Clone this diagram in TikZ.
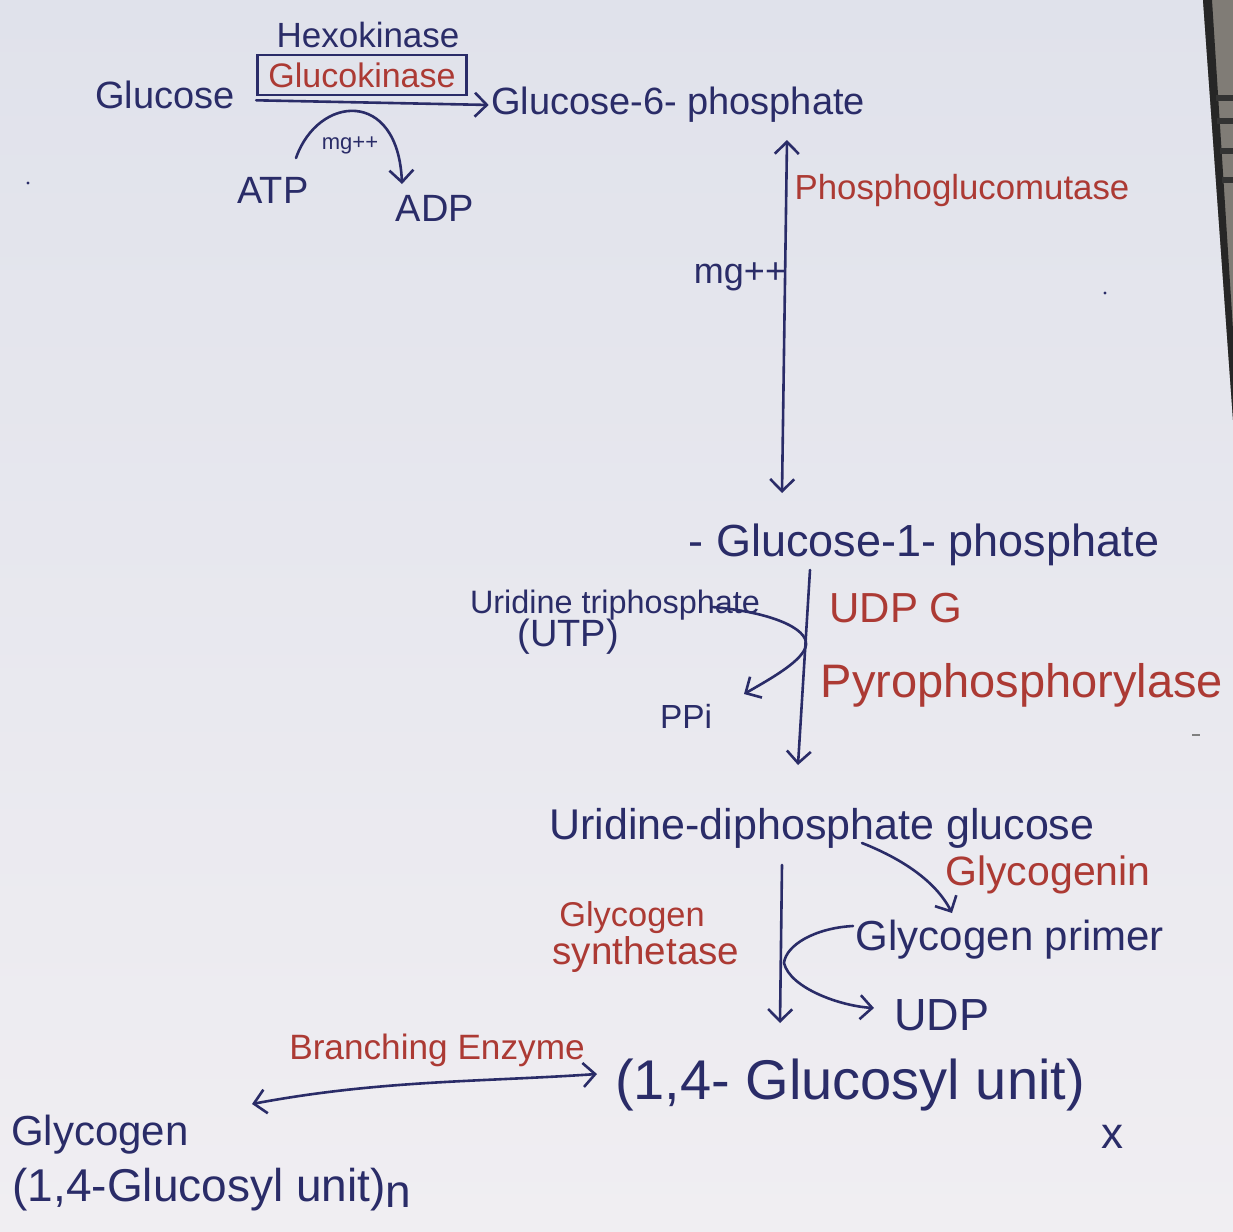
\documentclass[tikz,border=0pt]{standalone}
\usepackage{fontspec}
\setmainfont{Liberation Sans}
\usetikzlibrary{arrows.meta}
\definecolor{inkb}{RGB}{42,44,104}
\definecolor{inkr}{RGB}{172,58,52}
\definecolor{paperT}{RGB}{224,226,235}
\definecolor{paperB}{RGB}{240,238,242}
\definecolor{edgegray}{RGB}{128,124,118}
\newcommand\fsz[1]{\fontsize{#1}{#1}\selectfont}
\begin{document}
\begin{tikzpicture}[x=0.5pt,y=-0.5pt,
  lbl/.style={inner sep=0pt, text=inkb},
  enz/.style={inner sep=0pt, text=inkr},
  ink/.style={draw=inkb, line width=1.3pt, line cap=round, line join=round},
  arr/.style={ink, -{Straight Barb[length=6pt,width=12pt]}},
  darr/.style={ink, {Straight Barb[length=6pt,width=12pt]}-{Straight Barb[length=6pt,width=12pt]}}]
\useasboundingbox (0,0) rectangle (1233,1232);
% paper
\shade[top color=paperT, bottom color=paperB] (0,0) rectangle (1233,1232);
% photo edge on the right
\fill[edgegray] (1203,0) -- (1233,0) -- (1233,420) -- cycle;
\fill[black!85] (1203,0) -- (1212,0) -- (1233,330) -- (1233,420) -- cycle;
\foreach \yy in {95,118,148,177} {\fill[black!80] (1209+0.071*\yy,\yy) rectangle (1233,\yy+6);}
% stray marks
\fill[inkb] (28,183) circle (1.6);
\fill[inkb] (1105,293) circle (1.6);
\draw[gray, line width=0.8pt] (1192,735) -- (1200,735);

% --- top: hexokinase step
\node[lbl, font=\fsz{19}] (glc) at (165,95) {Glucose};
\node[lbl, font=\fsz{17.5}] (hexo) at (368,35) {Hexokinase};
\node[enz, font=\fsz{17}, draw=inkb, line width=1.3pt, minimum width=104.5pt, minimum height=20pt] (gk) at (362,75) {Glucokinase};
\node[lbl, font=\fsz{19}] (g6p) at (678,105) {Glucose-6- phosphate};
\node[lbl, font=\fsz{11}] (mg1) at (350,145) {mg++};
\node[lbl, font=\fsz{19}] (atp) at (273,190) {ATP};
\node[lbl, font=\fsz{19}] (adp) at (435,208) {ADP};
\draw[arr, shorten >=1pt] ([yshift=-2pt]gk.south west) -- (g6p.west);
\coordinate (atpS) at (296,158);
\coordinate (adpE) at (402,184);
\draw[arr] (atpS) .. controls (318,95) and (398,88) .. (adpE);

% --- phosphoglucomutase
\coordinate (m1) at (787,140);
\coordinate (m2) at (782,493);
\draw[darr] (m1) -- (m2);
\node[enz, font=\fsz{17.4}] (pgm) at (962,190) {Phosphoglucomutase};
\node[lbl, font=\fsz{18}] (mg2) at (740,277) {mg++};
\node[lbl, font=\fsz{22.5}] (g1p) at (924,545) {- Glucose-1- phosphate};

% --- UDP-glucose pyrophosphorylase
\coordinate (p1) at (810,570);
\coordinate (p2) at (798,765);
\draw[arr] (p1) -- (p2);
\node[lbl, font=\fsz{16.2}] (utp) at (615,605) {Uridine triphosphate};
\node[lbl, font=\fsz{19}] (utp2) at (568,637) {(UTP)};
\node[lbl, font=\fsz{16.7}] (ppi) at (686,716) {PPi};
\coordinate (u1) at (712,607);
\coordinate (u2) at (744,694);
\draw[arr] (u1) .. controls (770,612) and (808,628) .. (806,645) .. controls (804,660) and (772,678) .. (u2);
\node[enz, font=\fsz{21}] (udpg) at (896,608) {UDP G};
\node[enz, font=\fsz{23.5}] (pyro) at (1022,685) {Pyrophosphorylase};

% --- glycogen synthase
\node[lbl, font=\fsz{21.5}] (udpglc) at (822,828) {Uridine-diphosphate glucose};
\coordinate (s1) at (782,865);
\coordinate (s2) at (780,1023);
\draw[arr] (s1) -- (s2);
\node[enz, font=\fsz{17.2}] (gs1) at (632,918) {Glycogen};
\node[enz, font=\fsz{19.3}] (gs2) at (646,955) {synthetase};
\node[enz, font=\fsz{20.5}] (gnin) at (1048,875) {Glycogenin};
\node[lbl, font=\fsz{21}] (primer) at (1010,940) {Glycogen primer};
\node[lbl, font=\fsz{22.5}] (udp) at (942,1015) {UDP};
\coordinate (g1) at (862,843);
\coordinate (g2) at (952,913);
\draw[arr] (g1) .. controls (900,858) and (935,880) .. (g2);
\coordinate (r1) at (853,926);
\coordinate (r2) at (874,1008);
\draw[arr] (r1) .. controls (815,928) and (786,945) .. (784,963) .. controls (790,988) and (840,1006) .. (r2);

% --- branching enzyme
\node[enz, font=\fsz{17.6}] (be) at (437,1050) {Branching Enzyme};
\node[lbl, font=\fsz{28}] (unit) at (850,1085) {(1,4- Glucosyl unit)};
\node[lbl, font=\fsz{22}] (ux) at (1112,1137) {x};
\node[lbl, font=\fsz{21}] (glyc) at (100,1135) {Glycogen};
\node[lbl, font=\fsz{23}] (final) at (212,1190) {(1,4-Glucosyl unit)\raisebox{-3pt}{n}};
\coordinate (b1) at (252,1104);
\coordinate (b2) at (597,1074);
\draw[darr] (b1) .. controls (380,1080) and (480,1082) .. (b2);
\end{tikzpicture}
\end{document}
